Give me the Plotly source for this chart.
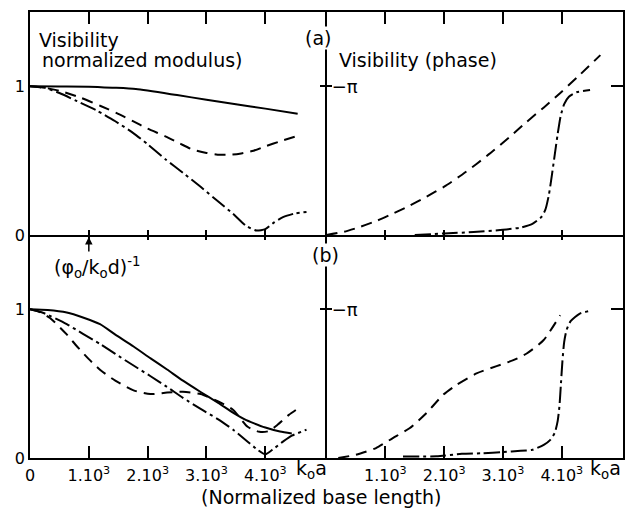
import plotly.graph_objects as go

# ——— data (x in k0a units, y: modulus or phase/pi) ———
# (a) modulus
a_mod_x_solid = [0, 500, 1000, 1400, 1800, 2500, 3000, 3500, 4000, 4550]
a_mod_y_solid = [1.0, 0.999, 0.998, 0.991, 0.982, 0.941, 0.910, 0.880, 0.850, 0.816]
a_mod_x_dash = [0, 250, 500, 850, 1200, 1500, 1750, 2000, 2300, 2550, 2770, 3000, 3225, 3400, 3565, 3800, 4000, 4250, 4530]
a_mod_y_dash = [1.0, 0.99, 0.97, 0.925, 0.868, 0.815, 0.766, 0.715, 0.664, 0.615, 0.574, 0.552, 0.54, 0.54, 0.547, 0.567, 0.596, 0.63, 0.664]
a_mod_x_dd = [0, 250, 500, 800, 1150, 1450, 1750, 2000, 2300, 2600, 2900, 3200, 3450, 3680, 3850, 4000, 4150, 4300, 4500, 4700]
a_mod_y_dd = [1.0, 0.99, 0.955, 0.9, 0.834, 0.765, 0.687, 0.61, 0.51, 0.418, 0.324, 0.225, 0.143, 0.06, 0.03, 0.04, 0.085, 0.12, 0.145, 0.155]

# (a) phase
a_ph_x_dash = [0, 300, 560, 850, 1130, 1400, 1700, 2000, 2265, 2550, 2834, 3100, 3400, 3700, 3970, 4300, 4655]
a_ph_y_dash = [0.0, 0.022, 0.053, 0.095, 0.144, 0.195, 0.258, 0.325, 0.395, 0.478, 0.566, 0.655, 0.76, 0.86, 0.954, 1.075, 1.21]
a_ph_x_dd = [1500, 2000, 2500, 3000, 3300, 3500, 3650, 3720, 3780, 3830, 3880, 3930, 3980, 4040, 4120, 4250, 4480]
a_ph_y_dd = [0.0, 0.01, 0.02, 0.035, 0.05, 0.075, 0.12, 0.17, 0.27, 0.4, 0.54, 0.68, 0.8, 0.88, 0.93, 0.96, 0.975]

# (b) modulus
b_mod_x_solid = [0, 300, 625, 900, 1190, 1450, 1760, 2050, 2330, 2600, 2900, 3200, 3470, 3650, 3810, 4000, 4250, 4450]
b_mod_y_solid = [1.0, 0.995, 0.978, 0.945, 0.9, 0.83, 0.75, 0.67, 0.595, 0.52, 0.444, 0.37, 0.3, 0.26, 0.233, 0.205, 0.178, 0.165]
b_mod_x_dash = [0, 150, 340, 620, 800, 1000, 1200, 1450, 1760, 2045, 2330, 2600, 2900, 3200, 3450, 3700, 3900, 4050, 4200, 4400, 4620]
b_mod_y_dash = [1.0, 0.985, 0.942, 0.833, 0.75, 0.665, 0.59, 0.52, 0.455, 0.43, 0.44, 0.445, 0.43, 0.38, 0.325, 0.21, 0.176, 0.18, 0.22, 0.29, 0.35]
b_mod_x_dd = [0, 230, 625, 900, 1190, 1450, 1760, 2050, 2330, 2600, 2900, 3200, 3470, 3700, 3870, 4000, 4150, 4300, 4450, 4700]
b_mod_y_dd = [1.0, 0.975, 0.9, 0.835, 0.767, 0.7, 0.622, 0.55, 0.478, 0.405, 0.33, 0.26, 0.185, 0.11, 0.055, 0.025, 0.065, 0.11, 0.15, 0.19]

# (b) phase
b_ph_x_dash = [200, 500, 842, 1127, 1411, 1696, 1980, 2208, 2550, 2891, 3176, 3403, 3688, 3972]
b_ph_y_dash = [0.0, 0.022, 0.067, 0.134, 0.2, 0.301, 0.424, 0.491, 0.569, 0.618, 0.658, 0.703, 0.792, 0.96]
b_ph_x_dd = [1300, 1870, 2300, 2650, 3000, 3300, 3500, 3700, 3800, 3880, 3930, 3960, 3985, 4010, 4040, 4080, 4150, 4300, 4480]
b_ph_y_dd = [0.01, 0.012, 0.028, 0.032, 0.04, 0.048, 0.055, 0.09, 0.12, 0.17, 0.25, 0.35, 0.5, 0.65, 0.78, 0.86, 0.92, 0.97, 0.99]

tick_vals = [1000, 2000, 3000, 4000]
tick_text = ['1.10<sup>3</sup>', '2.10<sup>3</sup>', '3.10<sup>3</sup>', '4.10<sup>3</sup>']

X_RANGE = [0, 5040]
Y_RANGE = [0, 1.5]
FONT = 'DejaVu Sans'
DASH = '11px,7px'
DASHDOT = '16px,4px,3px,4px'

fig = go.Figure()


def curve(x, y, dash, xa, ya):
    fig.add_trace(go.Scatter(
        x=x, y=y, mode='lines', xaxis=xa, yaxis=ya,
        line=dict(color='black', width=2, dash=dash, shape='spline', smoothing=0.6),
        showlegend=False, hoverinfo='skip'))


curve(a_mod_x_solid, a_mod_y_solid, 'solid', 'x', 'y')
curve(a_mod_x_dash, a_mod_y_dash, DASH, 'x', 'y')
curve(a_mod_x_dd, a_mod_y_dd, DASHDOT, 'x', 'y')
curve(a_ph_x_dash, a_ph_y_dash, DASH, 'x2', 'y2')
curve(a_ph_x_dd, a_ph_y_dd, DASHDOT, 'x2', 'y2')
curve(b_mod_x_solid, b_mod_y_solid, 'solid', 'x3', 'y3')
curve(b_mod_x_dash, b_mod_y_dash, DASH, 'x3', 'y3')
curve(b_mod_x_dd, b_mod_y_dd, DASHDOT, 'x3', 'y3')
curve(b_ph_x_dash, b_ph_y_dash, DASH, 'x4', 'y4')
curve(b_ph_x_dd, b_ph_y_dd, DASHDOT, 'x4', 'y4')

# empty traces so the extra tick-only axes get drawn
for xa, ya in [('x5', 'y'), ('x6', 'y2'), ('x7', 'y3'), ('x8', 'y4'),
               ('x2', 'y5'), ('x2', 'y6'), ('x4', 'y7'), ('x4', 'y8')]:
    fig.add_trace(go.Scatter(x=[None], y=[None], xaxis=xa, yaxis=ya,
                             showlegend=False, hoverinfo='skip'))

base = dict(showgrid=False, zeroline=False, linecolor='black', linewidth=1.5,
            tickcolor='black', tickwidth=1.5,
            tickfont=dict(family=FONT, size=16, color='black'))
pi_font = dict(family=FONT, size=18, color='black')


def xax(**kw):
    d = dict(base, range=X_RANGE, tickmode='array', tickvals=tick_vals,
             showticklabels=False, showline=True, ticks='inside')
    d.update(kw)
    return d


def yax(**kw):
    d = dict(base, range=Y_RANGE, tickmode='array', showline=True)
    d.update(kw)
    return d


# page body has an 8px margin, so the figure is offset by 8px
fig.update_layout(
    width=620, height=506,
    margin=dict(l=22, r=5, t=4, b=56),
    plot_bgcolor='white', paper_bgcolor='white',
    font=dict(family=FONT, size=16, color='black'),
    xaxis=xax(domain=[0, 0.5], anchor='y', ticklen=5),
    xaxis2=xax(domain=[0.5, 1], anchor='y2', ticklen=5),
    xaxis3=xax(domain=[0, 0.5], anchor='y3', ticklen=12, showticklabels=True,
               tickvals=[0] + tick_vals, ticktext=['0'] + tick_text, ticklabelstandoff=2),
    xaxis4=xax(domain=[0.5, 1], anchor='y4', ticklen=12, showticklabels=True,
               ticktext=tick_text, ticklabelstandoff=2),
    xaxis5=xax(overlaying='x', anchor='y', side='top', ticklen=12),
    xaxis6=xax(overlaying='x2', anchor='y2', side='top', ticklen=12),
    xaxis7=xax(overlaying='x3', anchor='y3', side='top', ticklen=5, showline=False),
    xaxis8=xax(overlaying='x4', anchor='y4', side='top', ticklen=5, showline=False),
    yaxis=yax(domain=[0.5, 1], anchor='x', tickvals=[0, 1], ticktext=['0', '1'], ticks=''),
    yaxis2=yax(domain=[0.5, 1], anchor='x2', tickvals=[1], ticktext=['\u2212\u03c0'],
               ticks='inside', ticklen=6, ticklabelposition='inside', tickfont=pi_font),
    yaxis3=yax(domain=[0, 0.5], anchor='x3', tickvals=[0, 1], ticktext=['0', '1'], ticks=''),
    yaxis4=yax(domain=[0, 0.5], anchor='x4', tickvals=[1], ticktext=['\u2212\u03c0'],
               ticks='inside', ticklen=6, ticklabelposition='inside', tickfont=pi_font),
    yaxis5=yax(overlaying='y2', anchor='x2', side='right', tickvals=[1],
               ticks='inside', ticklen=12, showticklabels=False),
    yaxis6=yax(overlaying='y2', anchor='x2', side='left', tickvals=[1],
               ticks='outside', ticklen=6, showticklabels=False, showline=False),
    yaxis7=yax(overlaying='y4', anchor='x4', side='right', tickvals=[1],
               ticks='inside', ticklen=12, showticklabels=False),
    yaxis8=yax(overlaying='y4', anchor='x4', side='left', tickvals=[1],
               ticks='outside', ticklen=6, showticklabels=False, showline=False),
)

txt = dict(family=FONT, size=19, color='black')


def label(text, x, y, xanchor='center', **kw):
    fig.add_annotation(text=text, x=x, y=y, xref='paper', yref='paper',
                       xanchor=xanchor, yanchor='middle', showarrow=False,
                       font=txt, **kw)


label('Visibility', 0.0118, 0.9372, xanchor='left')
label('normalized modulus)', 0.0169, 0.8924, xanchor='left')
label('Visibility (phase)', 0.5177, 0.8924, xanchor='left')
label('(a)', 0.4857, 0.9417, bgcolor='white', borderpad=0)
label('(b)', 0.4975, 0.4552, bgcolor='white', borderpad=0)
label('(\u03c6<sub>o</sub>/k<sub>o</sub>d)<sup>-1</sup>', 0.113, 0.4282)
label('k<sub>o</sub>a', 0.4452, -0.0269, xanchor='left')
label('k<sub>o</sub>a', 0.941, -0.0269, xanchor='left')
label('(Normalized base length)', 0.4916, -0.0874)

fig.add_annotation(text='', x=1000, y=1.486, xref='x3', yref='y3', ax=0, ay=16,
                   showarrow=True, arrowhead=2, arrowsize=1, arrowwidth=1.5, arrowcolor='black')

fig.write_html("out.html")
